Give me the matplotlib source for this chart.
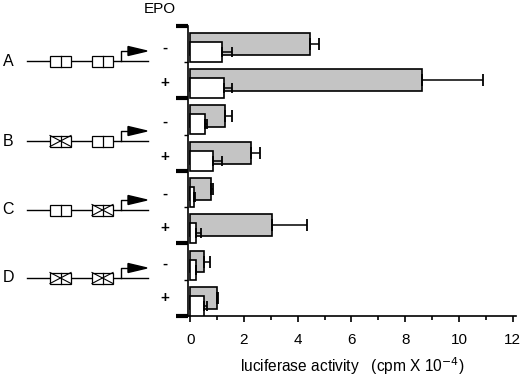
import matplotlib.pyplot as plt
from matplotlib.patches import Rectangle
import numpy as np

plt.rcParams['font.family'] = ['Liberation Sans', 'DejaVu Sans']

constructs = ['A', 'B', 'C', 'D']
epo = ['-', '+', '-', '+', '-', '+', '-', '+']
# which enhancer boxes are mutated (crossed) per construct
mutated = [(False, False), (True, False), (False, True), (True, True)]

gray_vals = [4.46, 8.62, 1.30, 2.27, 0.78, 3.05, 0.52, 1.00]
gray_err = [0.34, 2.28, 0.27, 0.31, 0.08, 1.30, 0.20, 0.02]
white_vals = [1.19, 1.27, 0.56, 0.85, 0.15, 0.22, 0.20, 0.50]
white_err = [0.36, 0.30, 0.08, 0.35, 0.02, 0.18, 0.03, 0.12]

fig = plt.figure(figsize=(5.2, 3.77), dpi=100)

# schematic panel in pixel coordinates
sk = fig.add_axes([0, 0, 1, 1])
sk.set_xlim(0, 520)
sk.set_ylim(377, 0)
sk.axis('off')

ax = fig.add_axes([188 / 520, 61 / 377, 327.5 / 520, 294 / 377])

y = np.arange(len(gray_vals))
ax.barh(y + 0.5, gray_vals, height=0.6, color='#c4c4c4', edgecolor='black',
        linewidth=1.2, zorder=2)
ax.errorbar(gray_vals, y + 0.5, xerr=[np.zeros(8), gray_err], fmt='none',
            ecolor='black', elinewidth=1.1, capsize=4, capthick=1.3, zorder=3)
ax.barh(y + 0.72, white_vals, height=0.55, color='white', edgecolor='black',
        linewidth=1.2, zorder=4)
ax.errorbar(white_vals, y + 0.72, xerr=[np.zeros(8), white_err], fmt='none',
            ecolor='black', elinewidth=1.1, capsize=3.5, capthick=1.3, zorder=5)

ax.set_xlim(-0.08, 12.1)
ax.set_ylim(8, -0.1)
ax.spines['top'].set_visible(False)
ax.spines['right'].set_visible(False)
ax.spines['left'].set_linewidth(1.2)
ax.spines['bottom'].set_linewidth(1.2)
ax.spines['left'].set_bounds(0, 8)

ax.set_yticks([0, 2, 4, 6, 8])
ax.set_yticks([1, 3, 5, 7], minor=True)
ax.tick_params(axis='y', which='major', length=9, width=3, labelleft=False)
ax.tick_params(axis='y', which='minor', length=3, width=1)
ax.set_xticks(np.arange(0, 13, 2))
ax.set_xticks(np.arange(1, 13, 2), minor=True)
ax.tick_params(axis='x', which='major', length=4, width=1.2, pad=8, labelsize=11)
ax.tick_params(axis='x', which='minor', length=3, width=1.2)
ax.set_xlabel('luciferase activity   (cpm X 10$^{-4}$)', fontsize=11.2, labelpad=6)

# EPO header and +/- labels
sk.text(160, 9, 'EPO', ha='center', va='center', fontsize=11)
sign_y = [48, 83, 122, 157, 194, 228, 264, 298]
for s, sy in zip(epo, sign_y):
    sk.text(165, sy, s, ha='center', va='center', fontsize=11, fontweight='bold')

# construct schematics
line_y = [61, 141, 210, 278]
for name, ly, mut in zip(constructs, line_y, mutated):
    sk.text(8, ly, name, ha='center', va='center', fontsize=11.5)
    sk.plot([27, 148], [ly, ly], color='black', lw=1, zorder=1)
    for (x0, m) in zip((50, 92), mut):
        w, h = 21, 11
        sk.add_patch(Rectangle((x0, ly - h / 2), w, h, facecolor='white',
                               edgecolor='black', lw=0.9, zorder=2))
        sk.plot([x0 + w / 2, x0 + w / 2], [ly - h / 2, ly + h / 2], color='black', lw=0.9, zorder=3)
        if m:
            sk.plot([x0, x0 + w], [ly - h / 2, ly + h / 2], color='black', lw=0.8, zorder=3)
            sk.plot([x0, x0 + w], [ly + h / 2, ly - h / 2], color='black', lw=0.8, zorder=3)
    sk.plot([121, 121, 130], [ly, ly - 10, ly - 10], color='black', lw=1, zorder=1)
    sk.fill([128, 147, 128], [ly - 14.5, ly - 10, ly - 5.5], color='black', zorder=2)

fig.savefig('out.png', dpi=100)
